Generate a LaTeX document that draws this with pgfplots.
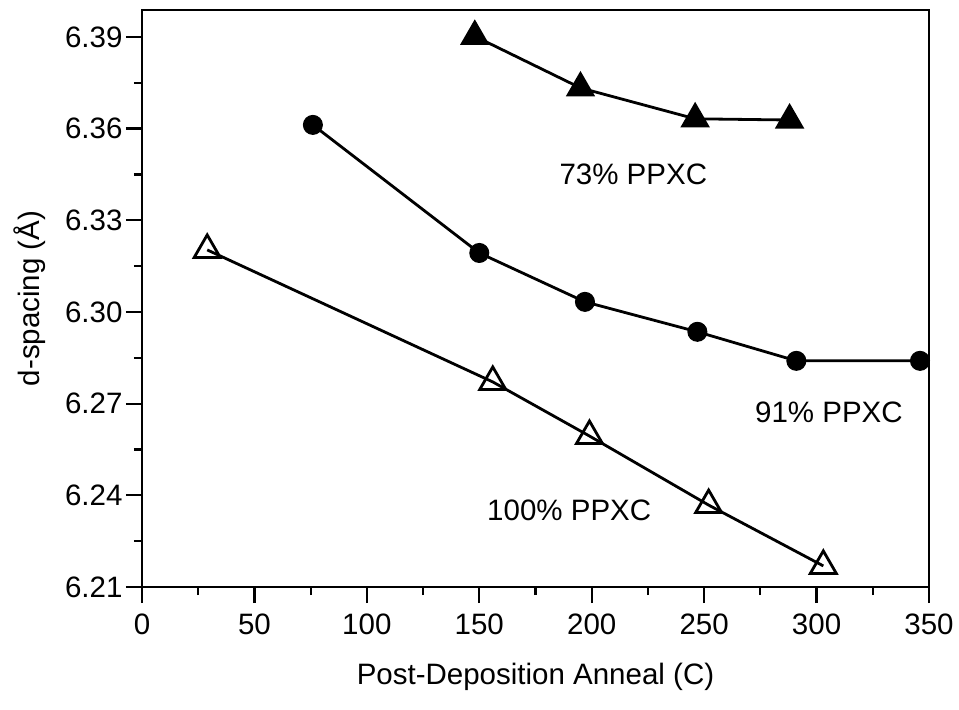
\documentclass[border=0pt]{standalone}
\usepackage{pgfplots}
\pgfplotsset{compat=1.18}
\usepackage{fontspec}
\setmainfont{Liberation Sans}

% d-spacing after post-deposition anneal, three PPXC contents
\pgfplotstableread{
x     y
148   6.3902
195   6.3733
246   6.3632
288   6.3628
}\seventythree
\pgfplotstableread{
x     y
76    6.3612
150   6.3193
197   6.3033
247   6.2935
291   6.2840
346   6.2840
}\ninetyone
\pgfplotstableread{
x     y
29    6.3203
156   6.2771
199   6.2594
252   6.2368
303   6.2169
}\hundred

\begin{document}
\begin{tikzpicture}
\begin{axis}[
  scale only axis, width=787bp, height=577bp,
  xmin=0, xmax=350, ymin=6.21, ymax=6.3988,
  xtick={0,50,...,350},
  ytick={6.21,6.24,6.27,6.30,6.33,6.36,6.39},
  minor x tick num=1, minor y tick num=1,
  tick align=outside, tick pos=left,
  major tick length=16bp, minor tick length=8bp,
  axis line style={line width=2.6bp},
  every tick/.append style={line width=2.2bp, black},
  /pgf/number format/assume math mode=true,
  yticklabel style={/pgf/number format/.cd, fixed, fixed zerofill, precision=2},
  xticklabel style={yshift=-7bp},
  tick label style={font=\fontsize{29.5bp}{34bp}\selectfont},
  label style={font=\fontsize{29.5bp}{34bp}\selectfont},
  xlabel={Post-Deposition Anneal (C)},
  ylabel={d-spacing (Å)},
  xlabel shift=22bp,
  ylabel shift=13bp,
  clip=false,
]
\addplot[black, line width=2.8bp, mark=triangle*, mark size=15.5bp,
  mark options={solid, fill=black, line width=1.5bp}] table {\seventythree};
\addplot[black, line width=2.8bp, mark=*, mark size=9.5bp,
  mark options={solid, fill=black, line width=1bp}] table {\ninetyone};
\addplot[black, line width=2.8bp, mark=triangle, mark size=15bp,
  mark options={solid, fill=white, line width=2.8bp}] table {\hundred};

\node[anchor=base, font=\fontsize{29.5bp}{34bp}\selectfont] at (axis cs:218.5,6.3416) {73\% PPXC};
\node[anchor=base, font=\fontsize{29.5bp}{34bp}\selectfont] at (axis cs:305.5,6.2637) {91\% PPXC};
\node[anchor=base, font=\fontsize{29.5bp}{34bp}\selectfont] at (axis cs:190,6.2319) {100\% PPXC};
\end{axis}
\path ([xshift=-142bp,yshift=-123bp]current axis.south west) rectangle ++(959bp,710bp);
\end{tikzpicture}
\end{document}
